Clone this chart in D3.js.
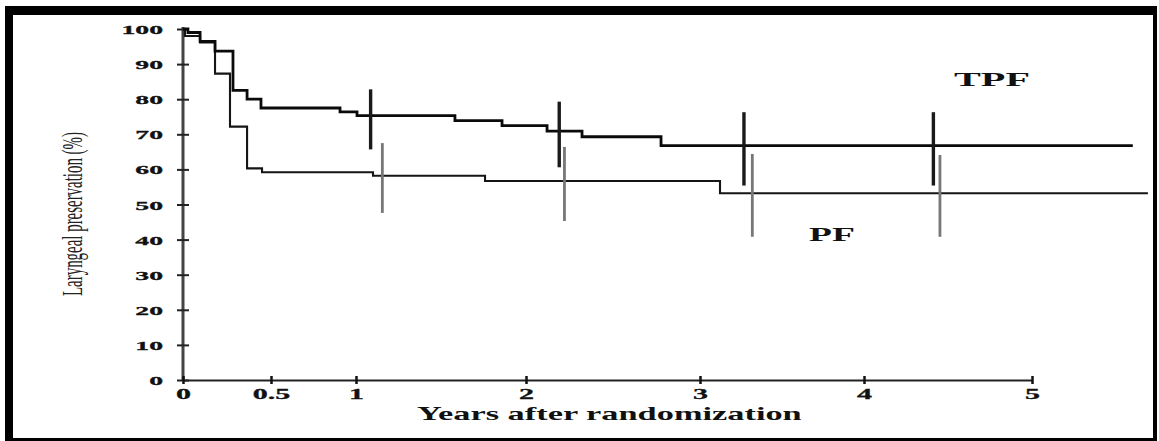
<!DOCTYPE html>
<html>
<head>
<meta charset="utf-8">
<script src="https://cdn.jsdelivr.net/npm/d3@7"></script>
<style>
  html, body { margin: 0; padding: 0; background: #fff; }
  svg { display: block; }
</style>
</head>
<body>
<div class="chart"></div>
<script>
// Kaplan-Meier style step data
const tpfTimes = [0, 0.028, 0.097, 0.182, 0.284, 0.364, 0.443, 0.906, 1.006, 1.582, 1.859, 2.121, 2.322, 2.776];
const tpfSurv = [100, 99, 96.5, 93.7, 82.5, 80.0, 77.5, 76.4, 75.3, 73.9, 72.5, 70.9, 69.3, 66.8];
const tpfEnd = 5.6;

const pfTimes = [0, 0.011, 0.097, 0.182, 0.267, 0.364, 0.449, 1.1, 1.759, 3.122];
const pfSurv = [100, 98, 96.2, 87.3, 72.2, 60.3, 59.2, 58.2, 56.7, 53.2];
const pfEnd = 5.69;

// confidence bars
const tpfBarTimes = [1.086, 2.191, 3.268, 4.413];
const tpfBarLow = [65.7, 60.6, 55.4, 55.4];
const tpfBarHigh = [82.8, 79.3, 76.3, 76.3];

const pfBarTimes = [1.155, 2.221, 3.319, 4.452];
const pfBarLow = [47.6, 45.3, 40.8, 40.8];
const pfBarHigh = [67.5, 66.4, 64.4, 64.1];

const xTicks = [0, 0.5, 1, 2, 3, 4, 5];
const yTicks = [0, 10, 20, 30, 40, 50, 60, 70, 80, 90, 100];

const width = 1159;
const height = 441;

const svg = d3.select('.chart').append('svg')
  .attr('width', width)
  .attr('height', height);

// frame (thick top/left, thin right/bottom like the scan)
svg.append('rect').attr('x', 5).attr('y', 6).attr('width', 1152).attr('height', 435).attr('fill', '#000');
svg.append('rect').attr('x', 13).attr('y', 15).attr('width', 1140).attr('height', 423).attr('fill', '#fff');

// the scan's x axis is slightly uneven, so the scale follows the printed ticks
const x = d3.scaleLinear()
  .domain([0, 0.5, 1, 2, 3, 4, 5])
  .range([183, 271, 356, 526, 700, 864, 1032]);
const y = d3.scaleLinear().domain([0, 100]).range([380, 29]);

const serif = '"Liberation Serif", "Times New Roman", serif';

// the scan is stretched sideways: squeeze/stretch a text to a given width
const fitText = (sel, px, py, targetWidth, rotate) => {
  const len = sel.node().getComputedTextLength();
  const sx = targetWidth / len;
  sel.attr('x', 0).attr('y', 0)
    .attr('transform', `translate(${px},${py})${rotate ? ' rotate(-90)' : ''} scale(${sx},1)`);
};

// y axis
const yAxis = svg.append('g')
  .attr('class', 'y-axis')
  .attr('transform', `translate(${x(0)},0)`)
  .call(d3.axisLeft(y).tickValues(yTicks).tickSize(0).tickPadding(0));

yAxis.select('.domain').attr('stroke', '#444').attr('stroke-width', 3).attr('d', `M0,${y(100) - 2}V${y(0)}`);
yAxis.selectAll('g.tick')
  .append('line')
  .attr('x1', -6).attr('x2', 6)
  .attr('stroke', '#222').attr('stroke-width', 2);
yAxis.selectAll('g.tick text')
  .attr('x', -20 / 2.05)
  .attr('dy', '0.34em')
  .attr('transform', 'scale(2.05,1)')
  .style('font-family', serif)
  .style('font-weight', 'bold')
  .style('font-size', '13.5px')
  .attr('stroke', '#111').attr('stroke-width', 0.3)
  .attr('fill', '#111');

// x axis
const xAxis = svg.append('g')
  .attr('class', 'x-axis')
  .attr('transform', `translate(0,${y(0)})`)
  .call(d3.axisBottom(x).tickValues(xTicks).tickFormat(d3.format('')).tickSize(0).tickSizeOuter(0));

xAxis.select('.domain').attr('stroke', '#222').attr('stroke-width', 2);
xAxis.selectAll('g.tick')
  .append('line')
  .attr('y1', -4).attr('y2', 4)
  .attr('stroke', '#111').attr('stroke-width', 2.5);
xAxis.selectAll('g.tick text')
  .attr('y', 19)
  .attr('dy', null)
  .attr('transform', 'scale(2.0,1)')
  .style('font-family', serif)
  .style('font-weight', 'bold')
  .style('font-size', '15px')
  .attr('stroke', '#111').attr('stroke-width', 0.3)
  .attr('fill', '#111');

// curves
const line = d3.line()
  .x((d) => x(d[0]))
  .y((d) => y(d[1]))
  .curve(d3.curveStepAfter);

const tpfPoints = tpfTimes.map((t, i) => [t, tpfSurv[i]]).concat([[tpfEnd, tpfSurv[tpfSurv.length - 1]]]);
const pfPoints = pfTimes.map((t, i) => [t, pfSurv[i]]).concat([[pfEnd, pfSurv[pfSurv.length - 1]]]);

svg.append('path')
  .datum(pfPoints)
  .attr('fill', 'none')
  .attr('stroke', '#151515')
  .attr('stroke-width', 2.1)
  .attr('d', line);

svg.append('path')
  .datum(tpfPoints)
  .attr('fill', 'none')
  .attr('stroke', '#0a0a0a')
  .attr('stroke-width', 2.8)
  .attr('d', line);

// bars
svg.selectAll('.tpf-bar')
  .data(tpfBarTimes)
  .enter().append('line')
  .attr('class', 'tpf-bar')
  .attr('x1', (d) => x(d)).attr('x2', (d) => x(d))
  .attr('y1', (d, i) => y(tpfBarHigh[i]))
  .attr('y2', (d, i) => y(tpfBarLow[i]))
  .attr('stroke', '#1a1a1a')
  .attr('stroke-width', 3.4);

svg.selectAll('.pf-bar')
  .data(pfBarTimes)
  .enter().append('line')
  .attr('class', 'pf-bar')
  .attr('x1', (d) => x(d)).attr('x2', (d) => x(d))
  .attr('y1', (d, i) => y(pfBarHigh[i]))
  .attr('y2', (d, i) => y(pfBarLow[i]))
  .attr('stroke', '#777')
  .attr('stroke-width', 2.8);

// labels
const xTitle = svg.append('text')
  .style('font-family', serif).style('font-weight', 'bold').style('font-size', '18.5px')
  .attr('fill', '#111')
  .text('Years after randomization');
fitText(xTitle, 417, 420, 385, false);

const yTitle = svg.append('text')
  .style('font-family', serif).style('font-size', '30px')
  .attr('fill', '#222')
  .text('Laryngeal preservation (%)');
fitText(yTitle, 82, 296, 164, true);

const tpfLabel = svg.append('text')
  .style('font-family', serif).style('font-weight', 'bold').style('font-size', '18px')
  .attr('fill', '#111')
  .text('TPF');
fitText(tpfLabel, 954, 86, 76, false);

const pfLabel = svg.append('text')
  .style('font-family', serif).style('font-weight', 'bold').style('font-size', '18px')
  .attr('fill', '#111')
  .text('PF');
fitText(pfLabel, 809, 241, 46, false);
</script>
</body>
</html>
